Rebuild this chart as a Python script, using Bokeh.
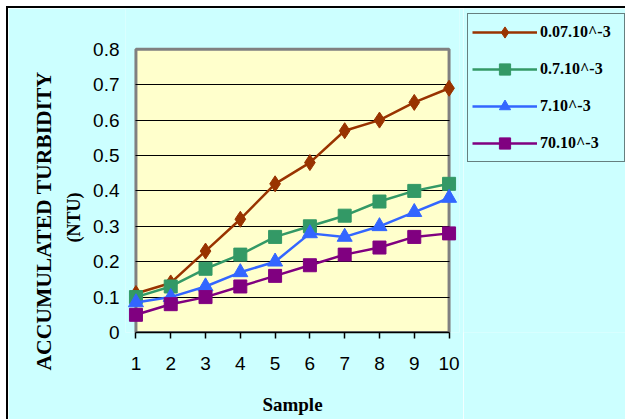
from bokeh.plotting import figure
from bokeh.layouts import row
from bokeh.models import Range1d, FixedTicker, NumeralTickFormatter, Legend, LegendItem, Title
from bokeh.embed import file_html
from bokeh.resources import INLINE

# ---- data ----
samples = [1, 2, 3, 4, 5, 6, 7, 8, 9, 10]
series_names = ["0.07.10^-3", "0.7.10^-3", "7.10^-3", "70.10^-3"]
s_007 = [0.11, 0.14, 0.23, 0.32, 0.42, 0.48, 0.57, 0.60, 0.65, 0.69]
s_07 = [0.10, 0.13, 0.18, 0.22, 0.27, 0.30, 0.33, 0.37, 0.40, 0.42]
s_7 = [0.085, 0.10, 0.13, 0.17, 0.20, 0.28, 0.27, 0.30, 0.34, 0.38]
s_70 = [0.05, 0.08, 0.10, 0.13, 0.16, 0.19, 0.22, 0.24, 0.27, 0.28]
y_ticks = [0, 0.1, 0.2, 0.3, 0.4, 0.5, 0.6, 0.7, 0.8]
x_label = "Sample"
y_label_1 = "ACCUMULATED TURBIDITY"
y_label_2 = "(NTU)"

# ---- styles ----
colors = ["#993300", "#339966", "#3366FF", "#800080"]
markers = ["diamond", "square", "triangle", "square"]
msizes = [16, 13, 15, 13]
series = [s_007, s_07, s_7, s_70]

CYAN = "#CCFFFF"
W, H = 455, 411                   # chart part
WL = 617 - W                      # legend part
BL, BR, BB = 117, 4, 87
px_y = 354.0                      # px per y unit
x0 = min(samples) - 0.3
x1 = max(samples) + 0.3
y1 = (H - BB) / px_y

p = figure(width=W, height=H, output_backend="svg", toolbar_location=None,
           x_range=Range1d(x0, x1), y_range=Range1d(y_ticks[0], y1),
           min_border_left=BL, min_border_right=BR, min_border_top=0, min_border_bottom=BB,
           background_fill_color=CYAN, border_fill_color=CYAN, outline_line_color=None)

# plot area (yellow with grey frame)
p.quad(left=min(samples), right=max(samples), bottom=y_ticks[0], top=y_ticks[-1],
       fill_color="#FFFFCC", line_color="#808080", line_width=3, level="image")

# grid
p.xgrid.visible = False
p.ygrid.ticker = FixedTicker(ticks=y_ticks[1:-1])
p.ygrid.cross_bounds = (min(samples), max(samples))
p.ygrid.grid_line_color = "black"
p.ygrid.grid_line_width = 1

for ys, c, m, ms in zip(series, colors, markers, msizes):
    p.line(samples, ys, line_color=c, line_width=2.5)
    p.scatter(samples, ys, marker=m, size=ms, fill_color=c, line_color=c)

# x axis
xa = p.xaxis[0]
xa.ticker = FixedTicker(ticks=samples)
xa.bounds = (min(samples), max(samples))
xa.axis_line_color = "black"
xa.axis_line_width = 1.5
xa.major_tick_line_color = "black"
xa.major_tick_line_width = 1.5
xa.major_tick_out = 6
xa.major_tick_in = 0
xa.minor_tick_line_color = None
xa.major_label_text_font = "Liberation Sans"
xa.major_label_text_font_size = "19px"
xa.major_label_text_color = "black"
xa.major_label_standoff = 18
xa.axis_label = x_label
xa.axis_label_text_font = "Liberation Serif"
xa.axis_label_text_font_style = "bold"
xa.axis_label_text_font_size = "19px"
xa.axis_label_text_color = "black"
xa.axis_label_standoff = 21

# y axis
ya = p.yaxis[0]
ya.ticker = FixedTicker(ticks=y_ticks)
ya.formatter = NumeralTickFormatter(format="0.[0]")
ya.bounds = (y_ticks[0], y_ticks[-1])
ya.axis_line_color = None
ya.major_tick_line_color = None
ya.minor_tick_line_color = None
ya.major_tick_out = 0
ya.major_tick_in = 0
ya.major_label_text_font = "Liberation Sans"
ya.major_label_text_font_size = "19px"
ya.major_label_text_color = "black"
ya.major_label_standoff = 6

# y axis title, two lines
t2 = Title(text=y_label_2, align="left", offset=90, vertical_align="middle", standoff=12,
           text_font="Liberation Serif", text_font_style="bold", text_font_size="18px",
           text_color="black")
t1 = Title(text=y_label_1, align="left", offset=-38, vertical_align="middle", standoff=0,
           text_font="Liberation Serif", text_font_style="bold", text_font_size="21.6px",
           text_color="black")
p.add_layout(t2, "left")
p.add_layout(t1, "left")

# ---- legend panel (renderers kept outside its visible ranges) ----
q = figure(width=WL, height=H, output_backend="svg", toolbar_location=None,
           x_axis_location=None, y_axis_location=None,
           x_range=Range1d(-2, -1), y_range=Range1d(-2, -1),
           min_border=0, background_fill_color=CYAN, border_fill_color=CYAN,
           outline_line_color=None)
q.xgrid.visible = False
q.ygrid.visible = False
items = []
for name, ys, c, m in zip(series_names, series, colors, markers):
    lr = q.line(samples, ys, line_color=c, line_width=2.5)
    sr = q.scatter(samples, ys, marker=m, fill_color=c, line_color=c)
    items.append(LegendItem(label=name, renderers=[lr, sr]))

legend = Legend(items=items, location=(4, 170),
                border_line_color="black", border_line_width=1,
                background_fill_color=CYAN, background_fill_alpha=1,
                label_text_font="Liberation Serif", label_text_font_style="bold",
                label_text_font_size="16px", label_text_color="black",
                glyph_width=65, glyph_height=28, label_height=20, label_width=80,
                padding=4, spacing=9, label_standoff=3, margin=0)
q.add_layout(legend)

layout = row(p, q, spacing=0)
layout.styles = {"margin-left": "6px", "margin-top": "6px",
                 "border-top": "2px solid black", "border-left": "2px solid black"}

open("out.html", "w").write(file_html(layout, INLINE))
